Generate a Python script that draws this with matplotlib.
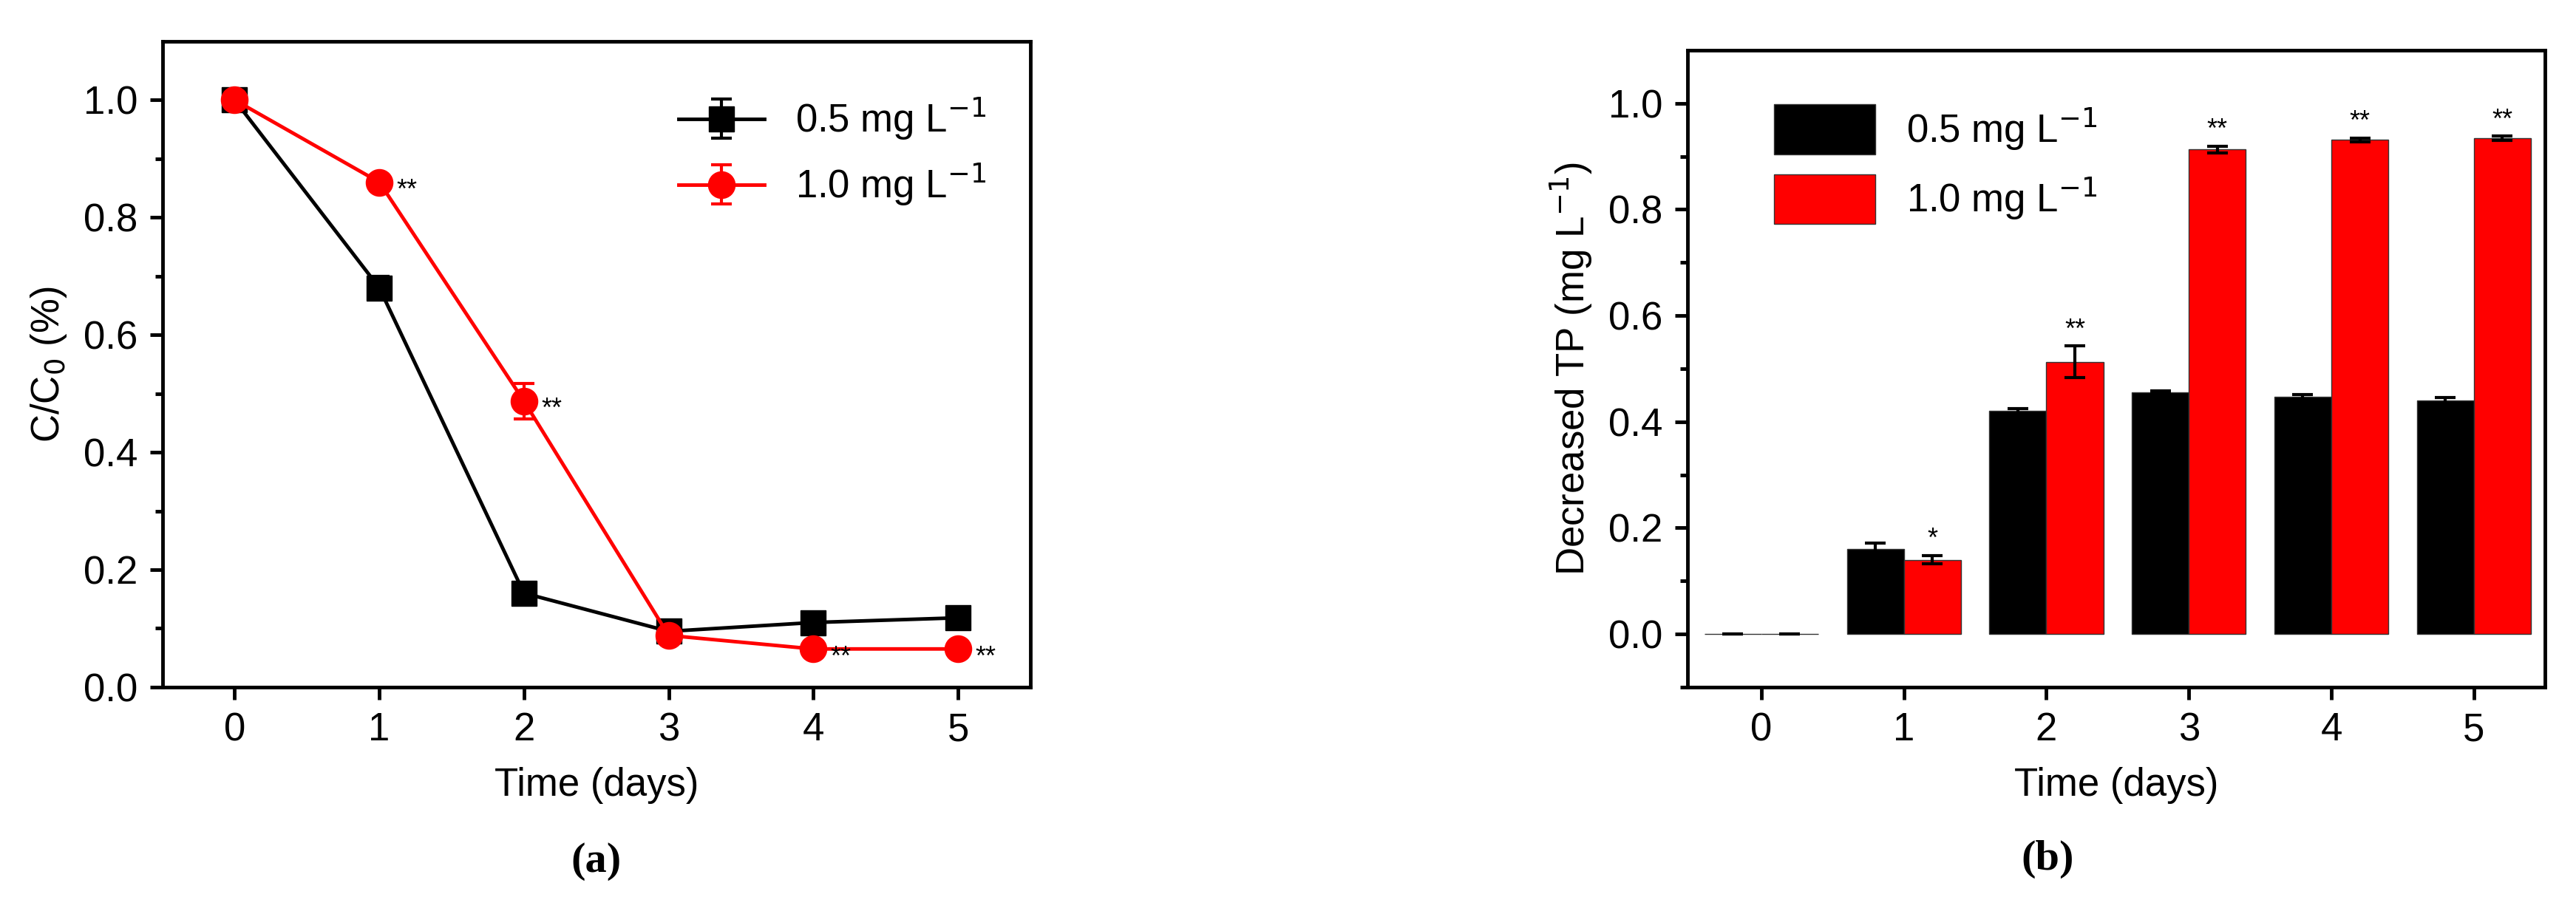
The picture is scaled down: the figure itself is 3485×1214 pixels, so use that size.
import matplotlib
matplotlib.use("Agg")
import matplotlib.pyplot as plt
import numpy as np

plt.rcParams['font.family'] = ['Liberation Sans', 'DejaVu Sans']

days = [0, 1, 2, 3, 4, 5]
# panel a: C/C0
a_low = [1.0, 0.68, 0.16, 0.095, 0.11, 0.118]
a_low_err = [0.015, 0.02, 0.015, 0.01, 0.015, 0.015]
a_high = [1.0, 0.86, 0.487, 0.088, 0.065, 0.065]
a_high_err = [0.01, 0.012, 0.03, 0.01, 0.005, 0.005]
a_stars = ['', '**', '**', '', '**', '**']
# panel b: decreased TP
b_low = [0.0, 0.16, 0.42, 0.455, 0.447, 0.44]
b_low_err = [0.0, 0.012, 0.005, 0.003, 0.004, 0.006]
b_high = [0.0, 0.14, 0.513, 0.913, 0.931, 0.934]
b_high_err = [0.0, 0.008, 0.03, 0.006, 0.004, 0.004]
b_stars = ['', '*', '**', '**', '**', '**']
labels = ['0.5 mg L$^{-1}$', '1.0 mg L$^{-1}$']

fs = 38
fig = plt.figure(figsize=(34.85, 12.14), dpi=100)
axa = fig.add_axes([0.063, 0.234, 0.337, 0.72])
axb = fig.add_axes([0.655, 0.234, 0.333, 0.71])

axa.errorbar(days, a_low, yerr=a_low_err, color='black', marker='s', markersize=24,
             lw=3.5, elinewidth=3, capsize=10, capthick=3, label=labels[0])
axa.errorbar(days, a_high, yerr=a_high_err, color='red', marker='o', markersize=26,
             lw=3.5, elinewidth=3, capsize=10, capthick=3, label=labels[1])
for x, y, s in zip(days, a_high, a_stars):
    if s:
        axa.text(x + 0.12, y - 0.015, s, fontsize=26, ha='left', va='center')
axa.set_xlim(-0.5, 5.5)
axa.set_ylim(0, 1.1)
axa.set_yticks(np.arange(0, 1.01, 0.2))
axa.set_yticks(np.arange(0.1, 1.01, 0.2), minor=True)
axa.set_xlabel('Time (days)', fontsize=fs, labelpad=18)
axa.set_ylabel('C/C$_0$ (%)', fontsize=fs, labelpad=14)
axa.legend(loc='upper right', bbox_to_anchor=(0.99, 0.97), frameon=False, fontsize=fs,
           handlelength=2.2, markerscale=1.0)
axa.text(0.5, -0.30, '(a)', transform=axa.transAxes, ha='center', va='bottom',
         fontsize=42, fontfamily='Liberation Serif', fontweight='bold')

x = np.array(days)
w = 0.4
axb.bar(x - w / 2, b_low, w, yerr=b_low_err, color='black', edgecolor='#333333',
        error_kw=dict(elinewidth=3, capsize=10, capthick=3), label=labels[0])
axb.bar(x + w / 2, b_high, w, yerr=b_high_err, color='red', edgecolor='#333333',
        error_kw=dict(elinewidth=3, capsize=10, capthick=3), label=labels[1])
for xi, y, e, s in zip(x, b_high, b_high_err, b_stars):
    if s:
        axb.text(xi + w / 2, y + e + 0.005, s, fontsize=26, ha='center', va='bottom')
axb.set_xlim(-0.52, 5.5)
axb.set_ylim(-0.1, 1.1)
axb.set_yticks(np.arange(0, 1.01, 0.2))
axb.set_yticks(np.arange(-0.1, 1.01, 0.1), minor=True)
axb.set_xlabel('Time (days)', fontsize=fs, labelpad=18)
axb.set_ylabel('Decreased TP (mg L$^{-1}$)', fontsize=fs, labelpad=14)
axb.legend(loc='upper left', bbox_to_anchor=(0.06, 0.97), frameon=False, fontsize=fs,
           handlelength=2.6, handleheight=1.6)
axb.text(0.42, -0.30, '(b)', transform=axb.transAxes, ha='center', va='bottom',
         fontsize=42, fontfamily='Liberation Serif', fontweight='bold')

for ax in (axa, axb):
    for sp in ax.spines.values():
        sp.set_linewidth(3.5)
    ax.tick_params(labelsize=fs, width=3.5, length=12, pad=12)
    ax.tick_params(which='minor', width=3.5, length=7)
    ax.set_xticks(days)

fig.savefig('out.png', dpi=100)
